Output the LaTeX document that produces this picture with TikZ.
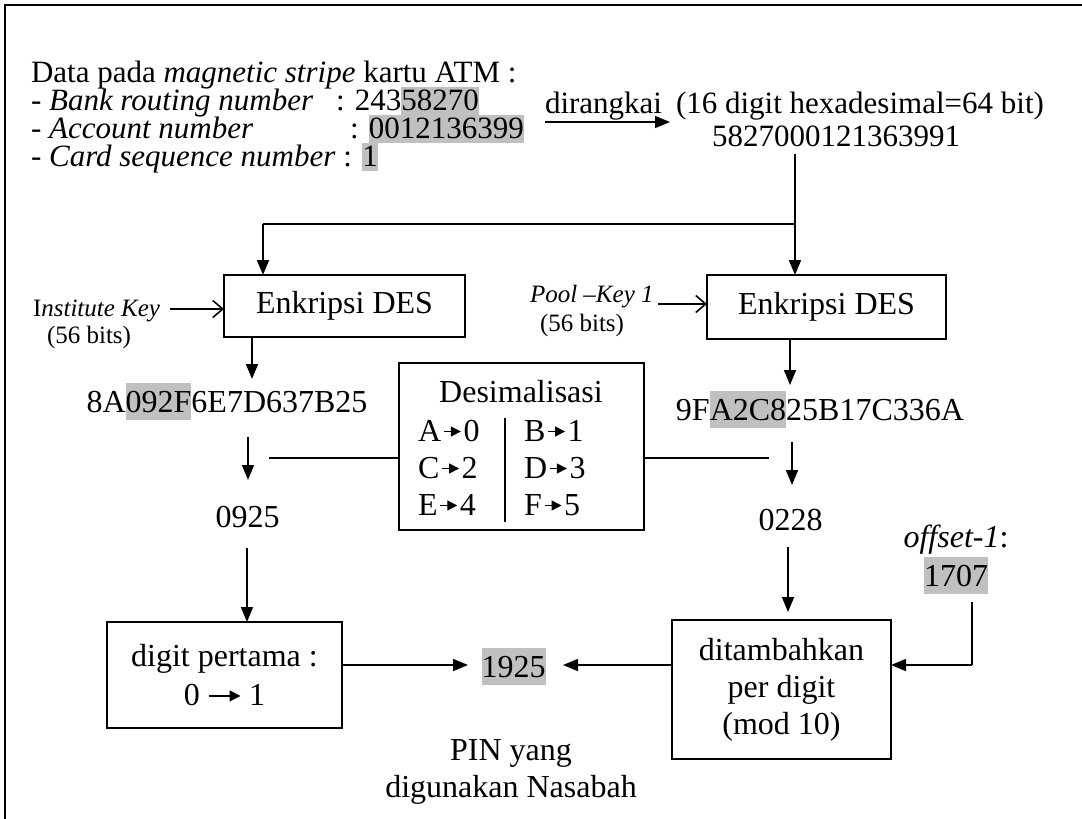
\documentclass[tikz,border=0pt]{standalone}
\usepackage{fontspec}
\setmainfont{Liberation Serif}
\usetikzlibrary{arrows.meta}
\definecolor{shade}{RGB}{192,192,192}
% gray marker behind selected digits
\newcommand{\hl}[1]{{\setlength{\fboxsep}{0pt}\colorbox{shade}{\rule[-0.24em]{0pt}{1.16em}#1}}}
% flatter marker for the tightly set data lines
\newcommand{\hlt}[1]{{\setlength{\fboxsep}{0pt}\colorbox{shade}{\rule[-5pt]{0pt}{28pt}#1}}}
% short solid-headed arrow used inside the conversion table
\newcommand{\sarr}{\kern2pt\tikz[baseline=0pt,x=1pt,y=1pt]\draw[line width=1.4pt,-{Triangle[length=10pt,width=10pt]}] (0,9.5) -- (17,9.5);\kern2pt}
% longer arrow for the first-digit rule
\newcommand{\larr}{\tikz[baseline=0pt,x=1pt,y=1pt]\draw[line width=1.4pt,-{Triangle[length=11pt,width=11pt]}] (0,9.5) -- (32,9.5);}
\begin{document}
\begin{tikzpicture}[x=1pt,y=-1pt,
  every node/.style={font=\fontsize{32}{37}\selectfont, inner sep=0pt, outer sep=0pt},
  toptext/.style={font=\fontsize{31}{28}\selectfont},
  small/.style={font=\fontsize{25}{28}\selectfont},
  box/.style={draw, line width=1.5pt, align=center},
  conn/.style={line width=1.6pt},
  arr/.style={line width=1.6pt, -{Triangle[length=15pt,width=12pt]}},
  keyarr/.style={line width=1.6pt, -{Straight Barb[length=10pt,width=17pt]}}]
\useasboundingbox (0,0) rectangle (1082,819);
\fill[white] (0,0) rectangle (1082,819);
% page frame
\draw[line width=2.5pt] (5,819) -- (5,5) -- (1082,5);

% magnetic stripe data
\node[toptext, anchor=base west] (l1) at (31,82) {Data pada \textit{magnetic stripe} kartu ATM :};
\node[toptext, anchor=base west] (l2) at (31,110) {- \textit{Bank routing number}};
\node[toptext, anchor=base west] (v2) at (336,110) {: 243\hlt{58270}};
\node[toptext, anchor=base west] (l3) at (31,138) {- \textit{Account number}};
\node[toptext, anchor=base west] (v3) at (350,138) {: \hlt{0012136399}};
\node[toptext, anchor=base west] (l4) at (31,166) {- \textit{Card sequence number} : \hlt{1}};

\node[toptext, anchor=base west] (dir) at (545,113) {dirangkai};
\coordinate (da) at (545,122);
\coordinate (db) at (670,122);
\draw[arr] (da) -- (db);
\node[toptext, anchor=base west] (hexinfo) at (676,113) {(16 digit hexadesimal=64 bit)};
\node[toptext, anchor=base west] (pan) at (712,146) {5827000121363991};

% DES encryption boxes
\node[box, minimum width=241pt, minimum height=62pt] (encL) at (344.5,306) {Enkripsi DES};
\node[box, minimum width=239pt, minimum height=64pt] (encR) at (826.5,307) {Enkripsi DES};

\coordinate (ptop) at (795,154);
\coordinate (pturn) at (795,224);
\coordinate (lturn) at (263,224);
\draw[arr] (ptop) -- (ptop |- encR.north);
\draw[conn] (pturn) -- (lturn);
\draw[arr] (lturn) -- (lturn |- encL.north);

% keys
\node[small, anchor=base west] (ik) at (33,316) {I\textit{nstitute Key}};
\node[small, anchor=base west] (ikb) at (47,343) {(56 bits)};
\coordinate (ika) at (170,309);
\draw[keyarr] (ika) -- (ika -| encL.west);
\node[small, anchor=base west] (pk) at (530,302) {\textit{Pool –Key 1}};
\node[small, anchor=base west] (pkb) at (540,331) {(56 bits)};
\coordinate (pka) at (658,304);
\draw[keyarr] (pka) -- (pka -| encR.west);

% encrypted values
\node[anchor=base] (hexL) at (227,412) {8A\hl{092F}6E7D637B25};
\node[anchor=base] (hexR) at (820,420) {9F\hl{A2C8}25B17C336A};
\draw[arr] (252,0 |- encL.south) -- (252,379);
\draw[arr] (790,0 |- encR.south) -- (790,385);

% decimalisation table
\node[box, minimum width=245pt, minimum height=167pt] (dec) at (521.5,446.5) {};
\node[anchor=base] (dect) at (521,402) {Desimalisasi};
\node[anchor=base west] (ra) at (418,441) {A\sarr0};
\node[anchor=base west] (rb) at (524,441) {B\sarr1};
\node[anchor=base west] (rc) at (418,478) {C\sarr2};
\node[anchor=base west] (rd) at (524,478) {D\sarr3};
\node[anchor=base west] (re) at (418,515) {E\sarr4};
\node[anchor=base west] (rf) at (524,515) {F\sarr5};
\coordinate (sepa) at (505,418);
\coordinate (sepb) at (505,522);
\draw[line width=1.4pt] (sepa) -- (sepb);

\coordinate (dl) at (269,458);
\coordinate (dr) at (769,458);
\draw[conn] (dl) -- (dl -| dec.west);
\draw[conn] (dec.east |- dr) -- (dr);
\draw[arr] (248,437) -- (248,480);
\draw[arr] (792,442) -- (792,485);

\node[anchor=base] (nL) at (247.5,527) {0925};
\node[anchor=base] (nR) at (790.5,530) {0228};

% final steps
\node[box, minimum width=235pt, minimum height=106pt] (first) at (224.5,675) {digit pertama :\\[2pt]0 \larr\ 1};
\node[box, minimum width=219pt, minimum height=139pt] (add) at (781.5,689.5) {ditambahkan\\per digit\\(mod 10)};
\draw[arr] (247,548) -- (247,0 |- first.north);
\draw[arr] (788,547) -- (788,612);

\node[anchor=base] (pin) at (513.5,677) {\hl{1925}};
\node[anchor=base] (pinl) at (511,760) {PIN yang};
\node[anchor=base] (pinm) at (511,797) {digunakan Nasabah};
\draw[arr] (first.east |- 0,665) -- (468,665);
\draw[arr] (add.west |- 0,665) -- (563,665);

\node[anchor=base] (off) at (956,547) {\textit{offset-1}:};
\node[anchor=base] (offv) at (956,586) {\hl{1707}};
\coordinate (oa) at (972,602);
\coordinate (ob) at (972,665);
\draw[conn] (oa) -- (ob);
\draw[arr] (ob) -- (add.east |- ob);
\end{tikzpicture}
\end{document}
